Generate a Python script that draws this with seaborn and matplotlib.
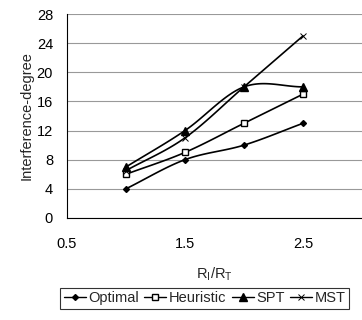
import numpy as np
import matplotlib
matplotlib.use("Agg")
import matplotlib.pyplot as plt
import seaborn as sns

# data
ratio = [1.0, 1.5, 2.0, 2.5]
optimal = [4, 8, 10, 13]
heuristic = [6, 9, 13, 17]
spt = [7, 12, 18, 18]
mst = [6.5, 11, 18, 25]

sns.set_style("white")
plt.rcParams["font.family"] = ["Liberation Sans", "DejaVu Sans"]


def smooth(xs, ys, n=30):
    # Catmull-Rom curve, like the smoothed lines of a spreadsheet chart
    xs = np.asarray(xs, float)
    ys = np.asarray(ys, float)
    px = np.concatenate([[2 * xs[0] - xs[1]], xs, [2 * xs[-1] - xs[-2]]])
    py = np.concatenate([[2 * ys[0] - ys[1]], ys, [2 * ys[-1] - ys[-2]]])
    outx, outy = [], []
    t = np.linspace(0, 1, n)
    for i in range(1, len(px) - 2):
        for p, out in ((px, outx), (py, outy)):
            p0, p1, p2, p3 = p[i - 1], p[i], p[i + 1], p[i + 2]
            out.extend(0.5 * (2 * p1 + (-p0 + p2) * t
                              + (2 * p0 - 5 * p1 + 4 * p2 - p3) * t ** 2
                              + (-p0 + 3 * p1 - 3 * p2 + p3) * t ** 3))
    return outx, outy


fig = plt.figure(figsize=(3.62, 3.2), dpi=100)
ax = fig.add_axes([0.185, 0.319, 0.815, 0.637])

series = [
    ("Optimal", optimal, dict(marker="D", markersize=3, markerfacecolor="black")),
    ("Heuristic", heuristic, dict(marker="s", markersize=4.5, markerfacecolor="white")),
    ("SPT", spt, dict(marker="^", markersize=5.5, markerfacecolor="black")),
    ("MST", mst, dict(marker="x", markersize=4.5, markeredgewidth=0.7)),
]
handles = []
for name, vals, mk in series:
    sx, sy = smooth(ratio, vals)
    sns.lineplot(x=sx, y=sy, ax=ax, color="black", lw=1.2, sort=False,
                 estimator=None, legend=False)
    ax.plot(ratio, vals, ls="none", color="black", markeredgecolor="black", **mk)
    h, = ax.plot([], [], color="black", lw=1.0, markeredgecolor="black", **mk)
    handles.append((h, name))
if ax.get_legend() is not None:
    ax.get_legend().remove()

ax.set_xlim(0.5, 3.0)
ax.set_ylim(0, 28)
ax.set_xticks([0.5, 1.5, 2.5])
ax.set_xticklabels(["0.5", "1.5", "2.5"])
ax.set_yticks(range(0, 29, 4))
ax.yaxis.grid(True, color="#999999", lw=0.8)
ax.set_axisbelow(True)
for s in ["top", "right"]:
    ax.spines[s].set_visible(False)
for s in ["left", "bottom"]:
    ax.spines[s].set_color("black")
    ax.spines[s].set_linewidth(0.8)
ax.tick_params(axis="both", direction="out", length=4, width=0.8,
               labelsize=10.5, colors="black", pad=6)
ax.tick_params(axis="x", pad=10)
ax.set_ylabel("Interference-degree", fontsize=10.5, labelpad=2)
ax.set_xlabel("R$_\\mathregular{I}$/R$_\\mathregular{T}$", fontsize=10.5, labelpad=10)

leg = fig.legend([h for h, _ in handles], [n for _, n in handles],
                 loc="center", bbox_to_anchor=(0.565, 0.068), ncol=4,
                 frameon=True, fancybox=False, fontsize=10.5,
                 handlelength=1.5, handletextpad=0.15, columnspacing=0.4,
                 borderpad=0.25, borderaxespad=0, edgecolor="black")
leg.get_frame().set_linewidth(0.8)

fig.savefig("out.png", dpi=100)
